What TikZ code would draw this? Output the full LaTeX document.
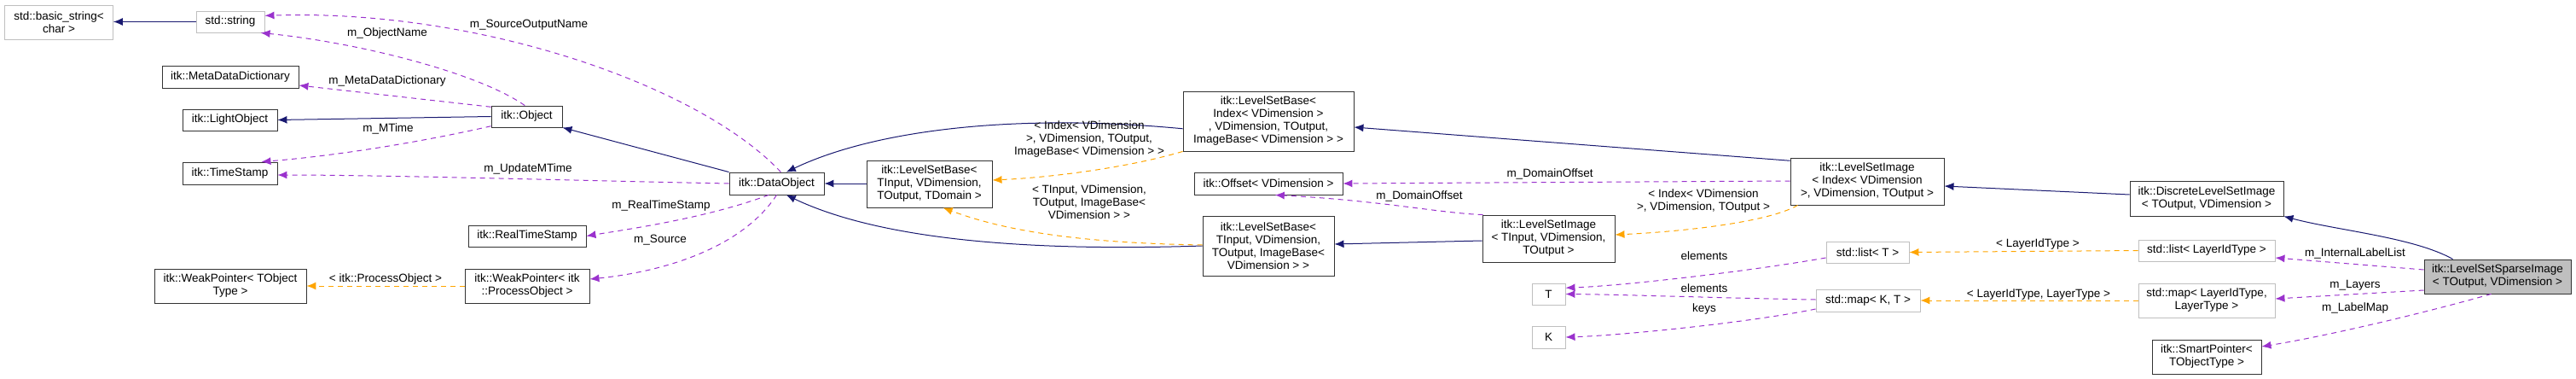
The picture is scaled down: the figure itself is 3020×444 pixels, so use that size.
\documentclass[tikz,border=0pt]{standalone}
\usepackage{fontspec}
\setmainfont{Liberation Sans}
\usetikzlibrary{arrows.meta}
\definecolor{navy}{HTML}{191970}
\definecolor{purp}{HTML}{9A32CD}
\definecolor{orng}{HTML}{FFA500}
\definecolor{gbord}{HTML}{BFBFBF}
\begin{document}
\begin{tikzpicture}[x=1pt,y=-1pt,
  font=\fontsize{13.5}{15}\selectfont,
  box/.style={draw=black!80,line width=0.9pt,fill=white,inner sep=0pt,align=center},
  gbox/.style={box,draw=gbord},
  inh/.style={draw=navy,line width=1pt,-{Latex[length=11pt,width=9pt]}},
  mem/.style={draw=purp,line width=1pt,dash pattern=on 6pt off 5pt,-{Latex[length=11pt,width=9pt]}},
  tpl/.style={draw=orng,line width=1pt,dash pattern=on 6pt off 5pt,-{Latex[length=11pt,width=9pt]}},
  lab/.style={inner sep=0pt,align=center,fill=none}]
\useasboundingbox (0,0) rectangle (3020,444);
\node[gbox,minimum width=127pt,minimum height=40pt] (basic) at (69,26) {std::basic\_string<\\char >};
\node[gbox,minimum width=80pt,minimum height=25pt] (str) at (270,25.5) {std::string};
\node[box,minimum width=160pt,minimum height=26pt] (meta) at (270,90) {itk::MetaDataDictionary};
\node[box,minimum width=111pt,minimum height=25pt] (light) at (269.5,140.5) {itk::LightObject};
\node[box,minimum width=111pt,minimum height=26pt] (ts) at (269.5,203) {itk::TimeStamp};
\node[box,minimum width=83pt,minimum height=25pt] (obj) at (617.5,136.5) {itk::Object};
\node[box,minimum width=138pt,minimum height=25pt] (rts) at (618,276.5) {itk::RealTimeStamp};
\node[box,minimum width=178pt,minimum height=40pt] (wpT) at (270,335) {itk::WeakPointer< TObject\\Type >};
\node[box,minimum width=146pt,minimum height=40pt] (wpP) at (618,335) {itk::WeakPointer< itk\\::ProcessObject >};
\node[box,minimum width=111pt,minimum height=26pt] (dobj) at (910.5,215) {itk::DataObject};
\node[box,minimum width=147pt,minimum height=55pt] (lsbD) at (1089.5,215.5) {itk::LevelSetBase<\\TInput, VDimension,\\TOutput, TDomain >};
\node[box,minimum width=200pt,minimum height=70pt] (lsbI) at (1487,142) {itk::LevelSetBase<\\Index< VDimension >\\, VDimension, TOutput,\\ImageBase< VDimension > >};
\node[box,minimum width=174pt,minimum height=26pt] (off) at (1487,215) {itk::Offset< VDimension >};
\node[box,minimum width=154pt,minimum height=70pt] (lsbT) at (1487,288) {itk::LevelSetBase<\\TInput, VDimension,\\TOutput, ImageBase<\\VDimension > >};
\node[box,minimum width=155pt,minimum height=55pt] (lsiT) at (1815.5,279.5) {itk::LevelSetImage\\< TInput, VDimension,\\TOutput >};
\node[box,minimum width=180pt,minimum height=55pt] (lsiI) at (2189,212.5) {itk::LevelSetImage\\< Index< VDimension\\>, VDimension, TOutput >};
\node[gbox,minimum width=39pt,minimum height=25pt] (T) at (1815.5,344.5) {T};
\node[gbox,minimum width=39pt,minimum height=26pt] (K) at (1815.5,395) {K};
\node[gbox,minimum width=97pt,minimum height=25pt] (listT) at (2189.5,295.5) {std::list< T >};
\node[gbox,minimum width=122pt,minimum height=26pt] (mapKT) at (2190,352) {std::map< K, T >};
\node[box,minimum width=180pt,minimum height=41pt] (disc) at (2587,232.5) {itk::DiscreteLevelSetImage\\< TOutput, VDimension >};
\node[gbox,minimum width=160pt,minimum height=25pt] (listL) at (2587,293.5) {std::list< LayerIdType >};
\node[gbox,minimum width=160pt,minimum height=40pt] (mapL) at (2587,352) {std::map< LayerIdType,\\LayerType >};
\node[box,minimum width=128pt,minimum height=40pt] (smart) at (2587,418) {itk::SmartPointer<\\TObjectType >};
\node[box,fill=gbord,minimum width=172pt,minimum height=40pt] (sparse) at (2928,324) {itk::LevelSetSparseImage\\< TOutput, VDimension >};
% inheritance
\draw[inh] (str.west) -- (basic.east |- str.west);
\draw[inh] (obj.west) -- (light.east);
\draw[inh] (dobj.north west) -- (obj.south east);
\draw[inh] (lsbD.west |- dobj.east) -- (dobj.east);
\draw[inh] (lsbI.185) .. controls (1200,133) and (1030,150) .. (dobj.50);
\draw[inh] (lsbT.180) .. controls (1200,295) and (1030,280) .. (dobj.310);
\draw[inh] (lsiI.165) -- (lsbI.east |- 0,149);
\draw[inh] (lsiT.west |- 0,282) -- (lsbT.east |- 0,286);
\draw[inh] (disc.west |- 0,228) -- (lsiI.east |- 0,218);
\coordinate (sp1) at ([xshift=34pt]sparse.north west);
\draw[inh] (sp1) .. controls (2830,278) and (2740,270) .. (disc.south east);
% members
\draw[mem] (dobj.70) .. controls (820,100) and (560,10) .. (str.10);
\draw[mem] (obj.100) .. controls (560,85) and (420,50) .. (str.340);
\draw[mem] (obj.165) -- (meta.east |- 0,100);
\draw[mem] (obj.195) .. controls (500,165) and (400,182) .. (ts.20);
\draw[mem] (dobj.west) .. controls (700,212) and (450,205) .. (ts.east |- 0,205);
\draw[mem] (dobj.235) .. controls (830,255) and (740,268) .. (rts.east);
\draw[mem] (dobj.270) .. controls (870,290) and (780,318) .. (wpP.east |- 0,327);
\draw[mem] (lsiI.west |- 0,212) -- (off.east);
\draw[mem] (lsiT.160) .. controls (1690,250) and (1620,235) .. (off.300);
\draw[mem] (listT.west |- 0,302) .. controls (2050,318) and (1900,335) .. (T.20);
\draw[mem] (mapKT.west |- 0,351) .. controls (2050,350) and (1900,345) .. (T.east);
\draw[mem] (mapKT.west |- 0,362) .. controls (2050,378) and (1900,393) .. (K.east);
\draw[mem] (sparse.west |- 0,316) -- (listL.east |- 0,302);
\draw[mem] (sparse.west |- 0,340) -- (mapL.east |- 0,350);
\draw[mem] (sparse.250) .. controls (2830,370) and (2720,395) .. (smart.east |- 0,406);
% templates
\draw[tpl] (wpP.west) -- (wpT.east);
\draw[tpl] (lsbI.south west) .. controls (1320,197) and (1230,208) .. (lsbD.east |- 0,211);
\draw[tpl] (lsbT.west |- 0,287) .. controls (1290,285) and (1190,275) .. (lsbD.300);
\coordinate (li1) at ([xshift=9pt]lsiI.south west);
\draw[tpl] (li1) .. controls (2070,262) and (1960,272) .. (lsiT.east |- 0,275);
\draw[tpl] (listL.west) -- (listT.east);
\draw[tpl] (mapL.west) -- (mapKT.east);
% labels
\node[lab] (l1) at (620,29) {m\_SourceOutputName};
\node[lab] (l2) at (454,39) {m\_ObjectName};
\node[lab] (l3) at (454,95) {m\_MetaDataDictionary};
\node[lab] (l4) at (455,151) {m\_MTime};
\node[lab] (l5) at (619,198) {m\_UpdateMTime};
\node[lab] (l6) at (452,327) {< itk::ProcessObject >};
\node[lab] (l7) at (775,241) {m\_RealTimeStamp};
\node[lab] (l8) at (774,281) {m\_Source};
\node[lab] (l9) at (1277,163) {< Index< VDimension\\>, VDimension, TOutput,\\ImageBase< VDimension > >};
\node[lab] (l10) at (1277,237) {< TInput, VDimension,\\TOutput, ImageBase<\\VDimension > >};
\node[lab] (l11) at (1817,204) {m\_DomainOffset};
\node[lab] (l12) at (1664,230) {m\_DomainOffset};
\node[lab] (l13) at (1997,236) {< Index< VDimension\\>, VDimension, TOutput >};
\node[lab] (l14) at (1998,300) {elements};
\node[lab] (l15) at (1998,338) {elements};
\node[lab] (l16) at (1998,362) {keys};
\node[lab] (l17) at (2389,286) {< LayerIdType >};
\node[lab] (l18) at (2390,345) {< LayerIdType, LayerType >};
\node[lab] (l19) at (2761,297) {m\_InternalLabelList};
\node[lab] (l20) at (2761,334) {m\_Layers};
\node[lab] (l21) at (2761,361) {m\_LabelMap};
\end{tikzpicture}
\end{document}
